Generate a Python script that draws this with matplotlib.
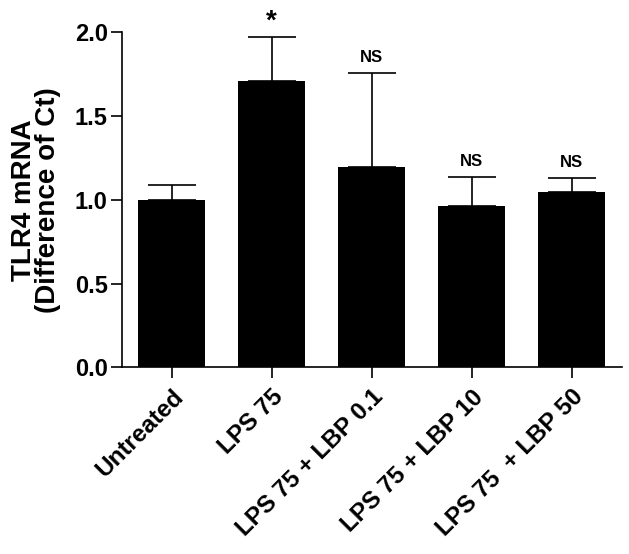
"""TLR4 mRNA bar chart with upper error bars."""
import matplotlib
matplotlib.use('Agg')
import matplotlib.pyplot as plt

plt.rcParams.update({
    'font.family': ['Liberation Sans', 'DejaVu Sans'],
    'font.weight': 'bold',
    'axes.labelweight': 'bold',
    'font.size': 13,
    'axes.linewidth': 1.2,
    'xtick.major.width': 1.2,
    'ytick.major.width': 1.2,
    'xtick.major.size': 8,
    'ytick.major.size': 8,
})

groups = ['Untreated', 'LPS 75', 'LPS 75 + LBP 0.1', 'LPS 75 + LBP 10', 'LPS 75  + LBP 50']
means = [1.00, 1.71, 1.195, 0.965, 1.045]
errors = [0.09, 0.26, 0.56, 0.17, 0.085]
marks = ['', '*', 'NS', 'NS', 'NS']

fig = plt.figure(figsize=(6.29, 5.54), dpi=100)
ax = fig.add_axes([0.1935, 0.337, 0.795, 0.605])

x = list(range(len(groups)))
ax.bar(x, means, width=0.67, color='black', zorder=2)
ax.errorbar(x, means, yerr=[[0] * len(errors), errors], fmt='none',
            ecolor='black', elinewidth=1.2, capsize=17, capthick=1.2, zorder=3)

for xi, m, e, lab in zip(x, means, errors, marks):
    if not lab:
        continue
    if lab == '*':
        ax.annotate(lab, (xi, m + e), xytext=(0, 2), textcoords='offset points',
                    ha='center', va='bottom', fontsize=20, annotation_clip=False)
    else:
        ax.annotate(lab, (xi, m + e), xytext=(0, 6), textcoords='offset points',
                    ha='center', va='bottom', fontsize=12, annotation_clip=False)

ax.set_xlim(-0.5, 4.5)
ax.set_ylim(0, 2.0)
ax.set_yticks([0.0, 0.5, 1.0, 1.5, 2.0])
ax.set_yticklabels(['0.0', '0.5', '1.0', '1.5', '2.0'], fontsize=17)
ax.tick_params(axis='y', pad=2)
ax.set_xticks(x)
ax.set_xticklabels(groups, rotation=45, ha='right', rotation_mode='anchor', fontsize=17.5)
ax.tick_params(axis='x', pad=5)
ax.set_ylabel('TLR4 mRNA\n(Difference of Ct)', fontsize=20, linespacing=0.9, labelpad=10)
ax.spines['top'].set_visible(False)
ax.spines['right'].set_visible(False)

fig.savefig('out.png', dpi=100, facecolor='white')
